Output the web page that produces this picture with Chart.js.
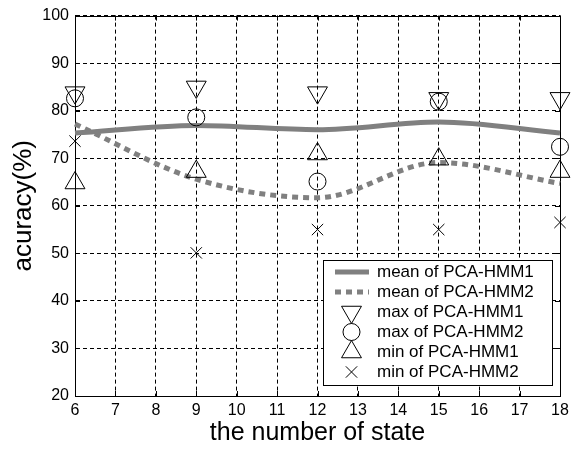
<!DOCTYPE html>
<html>
<head>
<meta charset="utf-8">
<script src="https://cdn.jsdelivr.net/npm/chart.js@4.4.1/dist/chart.umd.min.js"></script>
<style>
html,body{margin:0;padding:0;background:#fff;}
canvas{display:block;}
</style>
</head>
<body>
<canvas id="c" width="578" height="450"></canvas>
<script>
// ---- data ----
const states   = [6, 9, 12, 15, 18];
const meanHMM1 = [75.3, 76.9, 76.0, 77.6, 75.3];
const meanHMM2 = [77.2, 65.6, 61.7, 69.1, 64.7];
const maxHMM1  = [83.8, 85.0, 83.8, 82.6, 82.6];
const maxHMM2  = [82.6, 78.6, 65.1, 81.9, 72.4];
const minHMM1  = [64.8, 67.2, 70.9, 69.8, 67.2];
const minHMM2  = [73.6, 50.1, 55.0, 55.0, 56.5];
const xTickValues = [6, 7, 8, 9, 10, 11, 12, 13, 14, 15, 16, 17, 18];
const yTickValues = [20, 30, 40, 50, 60, 70, 80, 90, 100];
const seriesLabels = ['mean of PCA-HMM1', 'mean of PCA-HMM2', 'max of PCA-HMM1',
                      'max of PCA-HMM2', 'min of PCA-HMM1', 'min of PCA-HMM2'];
const xTitle = 'the number of state';
const yTitle = 'acuracy(%)';

const pts = ys => states.map((x, i) => ({x: x, y: ys[i]}));
const GRAY = '#808080';
const FONT = "'Liberation Sans', Arial, sans-serif";

function markerSet(label, data, style, radius, rotation) {
  return {
    label: label, data: pts(data), showLine: false, order: 0, clip: false,
    pointStyle: style, pointRadius: radius, pointHoverRadius: radius,
    pointRotation: rotation || 0, pointBorderColor: '#000',
    pointBackgroundColor: 'rgba(0,0,0,0)', pointBorderWidth: 1
  };
}

const boxPlugin = {
  id: 'boxPlugin',
  beforeDatasetsDraw(chart) {
    const {ctx, chartArea: a, scales} = chart;
    ctx.save();
    ctx.strokeStyle = '#000';
    ctx.lineWidth = 1;
    ctx.setLineDash([]);
    ctx.strokeRect(Math.round(a.left) + 0.5, Math.round(a.top) + 0.5,
                   Math.round(a.right - a.left), Math.round(a.bottom - a.top));
    ctx.beginPath();
    xTickValues.forEach(v => {
      const px = Math.round(scales.x.getPixelForValue(v)) + 0.5;
      ctx.moveTo(px, a.bottom); ctx.lineTo(px, a.bottom - 5);
      ctx.moveTo(px, a.top); ctx.lineTo(px, a.top + 5);
    });
    yTickValues.forEach(v => {
      const py = Math.round(scales.y.getPixelForValue(v)) + 0.5;
      ctx.moveTo(a.left, py); ctx.lineTo(a.left + 5, py);
      ctx.moveTo(a.right, py); ctx.lineTo(a.right - 5, py);
    });
    ctx.stroke();
    ctx.restore();
  }
};

const legendPlugin = {
  id: 'boxLegend',
  afterDraw(chart) {
    const ctx = chart.ctx;
    const x0 = 323, y0 = 260, w = 229, h = 125;
    ctx.save();
    ctx.fillStyle = '#fff';
    ctx.fillRect(x0, y0, w, h);
    ctx.strokeStyle = '#000';
    ctx.lineWidth = 1;
    ctx.strokeRect(x0 + 0.5, y0 + 0.5, w, h);
    chart.data.datasets.forEach((ds, i) => {
      const cy = 272 + i * 20;
      if (ds.showLine !== false) {
        ctx.save();
        ctx.strokeStyle = ds.borderColor;
        ctx.lineWidth = ds.borderWidth;
        ctx.lineCap = 'butt';
        ctx.setLineDash(ds.borderDash || []);
        ctx.beginPath();
        ctx.moveTo(335, cy); ctx.lineTo(369, cy);
        ctx.stroke();
        ctx.restore();
      } else {
        ctx.save();
        ctx.strokeStyle = '#000';
        ctx.fillStyle = 'rgba(0,0,0,0)';
        ctx.lineWidth = 1;
        Chart.helpers.drawPoint(ctx, {
          pointStyle: ds.pointStyle, radius: ds.pointRadius,
          rotation: ds.pointRotation, borderWidth: 1
        }, 351.5, cy);
        ctx.restore();
      }
      ctx.fillStyle = '#000';
      ctx.font = '17px ' + FONT;
      ctx.textBaseline = 'middle';
      ctx.textAlign = 'left';
      ctx.fillText(ds.label, 377, cy);
    });
    ctx.restore();
  }
};

new Chart(document.getElementById('c'), {
  type: 'line',
  data: {
    datasets: [
      { label: seriesLabels[0], data: pts(meanHMM1), borderColor: GRAY, borderWidth: 5,
        pointRadius: 0, pointHoverRadius: 0, cubicInterpolationMode: 'monotone', fill: false,
        order: 1, clip: false, borderCapStyle: 'butt' },
      { label: seriesLabels[1], data: pts(meanHMM2), borderColor: GRAY, borderWidth: 5,
        borderDash: [6, 5], pointRadius: 0, pointHoverRadius: 0,
        cubicInterpolationMode: 'monotone', fill: false,
        order: 2, clip: false, borderCapStyle: 'butt' },
      markerSet(seriesLabels[2], maxHMM1, 'triangle', 11.5, 180),
      markerSet(seriesLabels[3], maxHMM2, 'circle', 8.5),
      markerSet(seriesLabels[4], minHMM1, 'triangle', 11.5, 0),
      markerSet(seriesLabels[5], minHMM2, 'crossRot', 8)
    ]
  },
  options: {
    responsive: false,
    animation: false,
    devicePixelRatio: 1,
    layout: { padding: { top: 12, right: 18, left: 0, bottom: 0 } },
    plugins: { legend: { display: false }, tooltip: { enabled: false } },
    scales: {
      x: {
        type: 'linear', min: 6, max: 18,
        afterBuildTicks: s => { s.ticks = xTickValues.map(v => ({value: v})); },
        afterFit: s => { s.height = 54; },
        grid: { color: '#000', lineWidth: 1, drawTicks: false },
        border: { display: true, color: '#000', dash: [4, 3] },
        ticks: { color: '#000', padding: 5, maxRotation: 0, autoSkip: false,
                 font: { family: FONT, size: 16 } },
        title: { display: true, text: xTitle, color: '#000',
                 font: { family: FONT, size: 25 }, padding: { top: 0, bottom: 2 } }
      },
      y: {
        type: 'linear', min: 20, max: 100,
        afterBuildTicks: s => { s.ticks = yTickValues.map(v => ({value: v})); },
        afterFit: s => { s.width = 75; },
        grid: { color: '#000', lineWidth: 1, drawTicks: false },
        border: { display: true, color: '#000', dash: [4, 3] },
        ticks: { color: '#000', padding: 6, autoSkip: false,
                 font: { family: FONT, size: 16 } },
        title: { display: true, text: yTitle, color: '#000',
                 font: { family: FONT, size: 26 }, padding: { top: 8, bottom: 0 } }
      }
    }
  },
  plugins: [boxPlugin, legendPlugin]
});
</script>
</body>
</html>
